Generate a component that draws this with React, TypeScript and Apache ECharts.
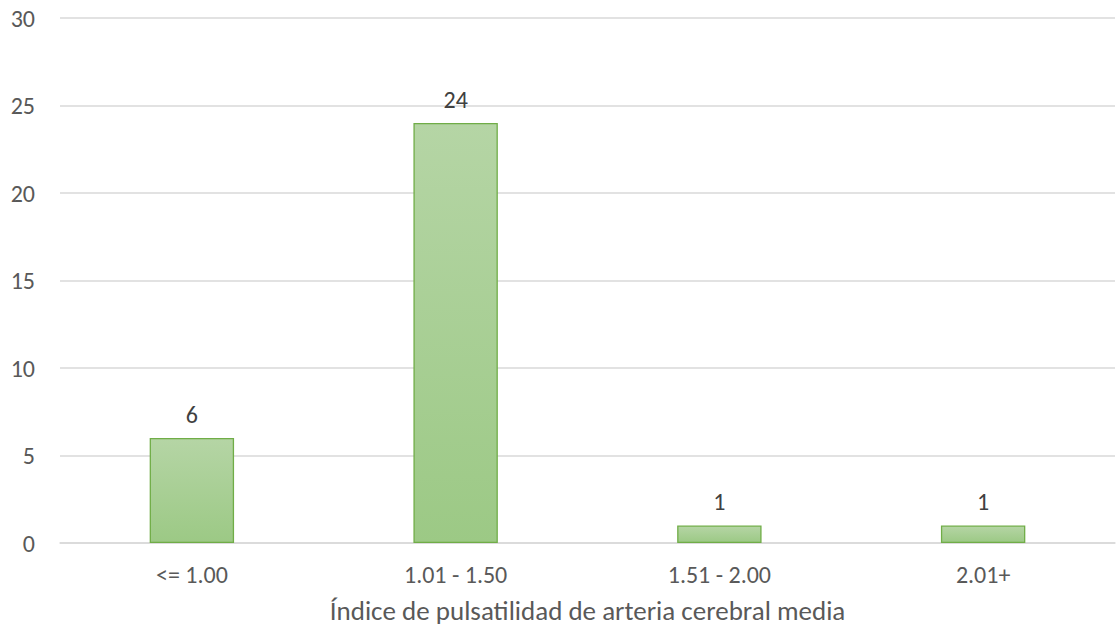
import React, { useEffect, useRef } from "react";
import * as echarts from "echarts";

const categories = ["<= 1.00", "1.01 - 1.50", "1.51 - 2.00", "2.01+"];
const values = [6, 24, 1, 1];
const xAxisTitle = "Índice de pulsatilidad de arteria cerebral media";

export default function App() {
  const ref = useRef<HTMLDivElement>(null);
  useEffect(() => {
    const chart = echarts.init(ref.current!, null, { renderer: "svg" });
    const font = "Carlito, Calibri, 'Open Sans', sans-serif";
    chart.setOption({
      animation: false,
      grid: {
        left: 60,
        right: 1,
        top: 18,
        bottom: 83,
        containLabel: false,
        outerBoundsMode: "none",
      },
      xAxis: {
        type: "category",
        data: categories,
        axisLine: { lineStyle: { color: "#d9d9d9", width: 1.5 } },
        axisTick: { show: false },
        axisLabel: { color: "#595959", fontSize: 24, margin: 19, fontFamily: font },
        name: xAxisTitle,
        nameLocation: "middle",
        nameGap: 54,
        nameTextStyle: { color: "#595959", fontSize: 27, fontFamily: font },
      },
      yAxis: {
        type: "value",
        min: 0,
        max: 30,
        interval: 5,
        axisLine: { show: false },
        axisTick: { show: false },
        axisLabel: { color: "#595959", fontSize: 24, margin: 25, fontFamily: font },
        splitLine: { lineStyle: { color: "#d9d9d9", width: 1.5 } },
      },
      series: [
        {
          type: "bar",
          data: values,
          barWidth: "32%",
          itemStyle: {
            color: new echarts.graphic.LinearGradient(0, 0, 0, 1, [
              { offset: 0, color: "#b5d5a5" },
              { offset: 1, color: "#9cc985" },
            ]),
            borderColor: "#70ad47",
            borderWidth: 1.3,
          },
          label: {
            show: true,
            position: "top",
            distance: 12,
            color: "#404040",
            fontSize: 24,
            fontFamily: font,
          },
        },
      ],
    });
    return () => chart.dispose();
  }, []);
  return (
    <div
      ref={ref}
      style={{ position: "fixed", left: 0, top: 0, width: 1116, height: 626, background: "#fff" }}
    />
  );
}
